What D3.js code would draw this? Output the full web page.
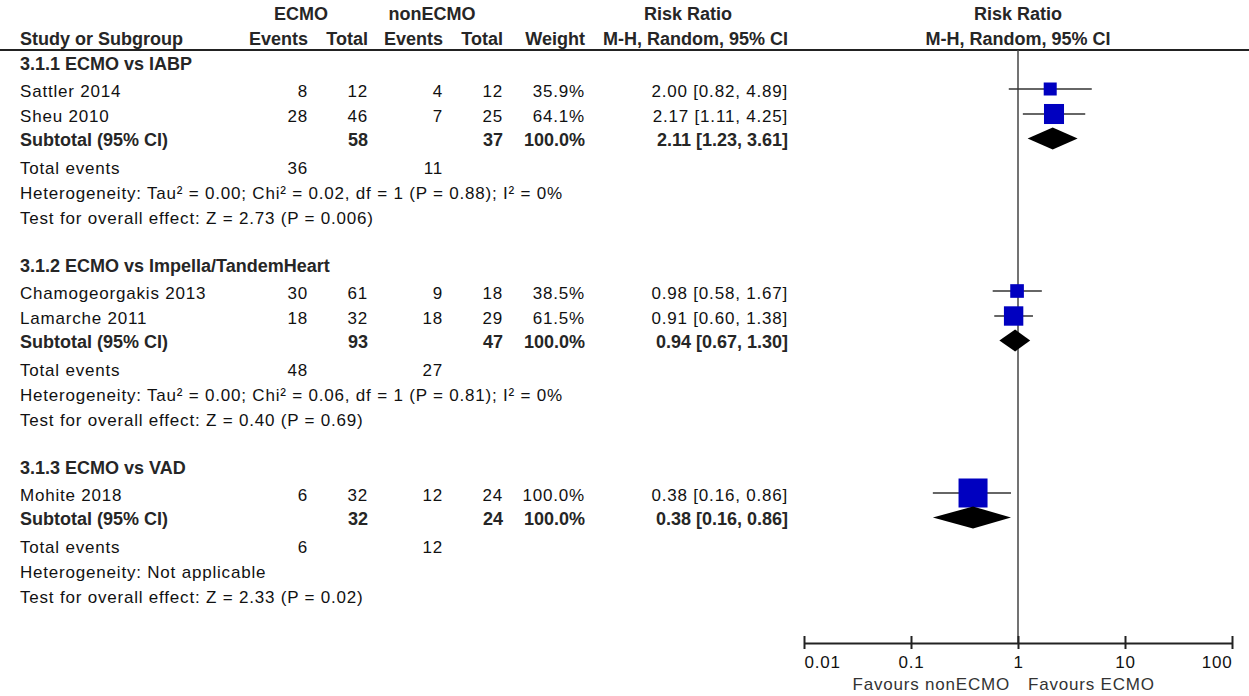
<!DOCTYPE html>
<html>
<head>
<meta charset="utf-8">
<script src="https://cdn.jsdelivr.net/npm/d3@7"></script>
<style>
  html, body { margin: 0; padding: 0; background: #fff; }
  svg { display: block; }
  .reg { font-family: "Liberation Sans", Arial, sans-serif; font-size: 17px; letter-spacing: 0.8px; fill: #111; }
  .bold { font-family: "Liberation Sans", Arial, sans-serif; font-size: 18px; font-weight: bold; fill: #262626; }
</style>
</head>
<body>
<svg id="chart" width="1249" height="696"></svg>
<script>
// ---------------- DATA ----------------
const groupTitles = ["3.1.1 ECMO vs IABP", "3.1.2 ECMO vs Impella/TandemHeart", "3.1.3 ECMO vs VAD"];

const studyNames   = ["Sattler 2014", "Sheu 2010", "Chamogeorgakis 2013", "Lamarche 2011", "Mohite 2018"];
const studyGroup   = [0, 0, 1, 1, 2];
const ecmoEvents   = [8, 28, 30, 18, 6];
const ecmoTotal    = [12, 46, 61, 32, 32];
const nonEvents    = [4, 7, 9, 18, 12];
const nonTotal     = [12, 25, 18, 29, 24];
const studyWeight  = [35.9, 64.1, 38.5, 61.5, 100.0];
const studyRR      = [2.00, 2.17, 0.98, 0.91, 0.38];
const studyLo      = [0.82, 1.11, 0.58, 0.60, 0.16];
const studyHi      = [4.89, 4.25, 1.67, 1.38, 0.86];

const subEcmoTotal = [58, 93, 32];
const subNonTotal  = [37, 47, 24];
const subWeight    = [100.0, 100.0, 100.0];
const subRR        = [2.11, 0.94, 0.38];
const subLo        = [1.23, 0.67, 0.16];
const subHi        = [3.61, 1.30, 0.86];

const totEcmoEvents = [36, 48, 6];
const totNonEvents  = [11, 27, 12];

const heterogeneity = [
  "Heterogeneity: Tau\u00B2 = 0.00; Chi\u00B2 = 0.02, df = 1 (P = 0.88); I\u00B2 = 0%",
  "Heterogeneity: Tau\u00B2 = 0.00; Chi\u00B2 = 0.06, df = 1 (P = 0.81); I\u00B2 = 0%",
  "Heterogeneity: Not applicable"
];
const overallEffect = [
  "Test for overall effect: Z = 2.73 (P = 0.006)",
  "Test for overall effect: Z = 0.40 (P = 0.69)",
  "Test for overall effect: Z = 2.33 (P = 0.02)"
];

const tickValues = [0.01, 0.1, 1, 10, 100];
const tickLabels = ["0.01", "0.1", "1", "10", "100"];
const favoursLeft = "Favours nonECMO";
const favoursRight = "Favours ECMO";

// ---------------- LAYOUT ----------------
const svg = d3.select("#chart");
const col = { name: 20, ee: 308, et: 368, ne: 443, nt: 503, w: 585, rr: 788 };
const x = d3.scaleLog().domain([0.01, 100]).range([804, 1232]);
const sizeScale = d3.scaleLinear().domain([35.9, 100]).range([13, 29]);
const axisY = 643;
const headerLineY = 50;

const fmt2 = d3.format(".2f");
const fmtW = v => d3.format(".1f")(v) + "%";
const rrText = (r, l, h) => `${fmt2(r)} [${fmt2(l)}, ${fmt2(h)}]`;

function text(cls, xPos, y, str, anchor) {
  return svg.append("text").attr("class", cls).attr("x", xPos).attr("y", y)
    .attr("dy", "0.36em").attr("text-anchor", anchor || "start").text(str);
}

// header
text("bold", 301, 14, "ECMO", "middle");
text("bold", 432, 14, "nonECMO", "middle");
text("bold", 688, 14, "Risk Ratio", "middle");
text("bold", 1018, 14, "Risk Ratio", "middle");
text("bold", col.name, 38.5, "Study or Subgroup");
text("bold", col.ee, 38.5, "Events", "end");
text("bold", col.et, 38.5, "Total", "end");
text("bold", col.ne, 38.5, "Events", "end");
text("bold", col.nt, 38.5, "Total", "end");
text("bold", col.w, 38.5, "Weight", "end");
text("bold", col.rr, 38.5, "M-H, Random, 95% CI", "end");
text("bold", 1018, 38.5, "M-H, Random, 95% CI", "middle");

svg.append("line").attr("x1", 0).attr("x2", 1249).attr("y1", headerLineY).attr("y2", headerLineY)
  .attr("stroke", "#222").attr("stroke-width", 2);

// null line
svg.append("line").attr("x1", x(1)).attr("x2", x(1)).attr("y1", headerLineY).attr("y2", axisY)
  .attr("stroke", "#444").attr("stroke-width", 1.5);

// rows
let y = 64;
groupTitles.forEach((title, g) => {
  text("bold", col.name, y, title);
  y += 26.5;
  const idx = studyGroup.map((gg, i) => gg === g ? i : -1).filter(i => i >= 0);
  idx.forEach((i, k) => {
    if (k > 0) y += 25;
    text("reg", col.name, y, studyNames[i]);
    text("reg", col.ee, y, ecmoEvents[i], "end");
    text("reg", col.et, y, ecmoTotal[i], "end");
    text("reg", col.ne, y, nonEvents[i], "end");
    text("reg", col.nt, y, nonTotal[i], "end");
    text("reg", col.w, y, fmtW(studyWeight[i]), "end");
    text("reg", col.rr, y, rrText(studyRR[i], studyLo[i], studyHi[i]), "end");
    const cy = y - 1.5;
    svg.append("line").attr("x1", x(studyLo[i])).attr("x2", x(studyHi[i]))
      .attr("y1", cy).attr("y2", cy).attr("stroke", "#333").attr("stroke-width", 1.5);
    const s = sizeScale(studyWeight[i]);
    svg.append("rect").attr("x", x(studyRR[i]) - s / 2).attr("y", cy - s / 2)
      .attr("width", s).attr("height", s).attr("fill", "#0000C0");
  });
  y += 24;
  text("bold", col.name, y, "Subtotal (95% CI)");
  text("bold", col.et, y, subEcmoTotal[g], "end");
  text("bold", col.nt, y, subNonTotal[g], "end");
  text("bold", col.w, y, fmtW(subWeight[g]), "end");
  text("bold", col.rr, y, rrText(subRR[g], subLo[g], subHi[g]), "end");
  const dy = y - 1;
  const h = 11;
  svg.append("path")
    .attr("d", `M${x(subLo[g])},${dy} L${x(subRR[g])},${dy - h} L${x(subHi[g])},${dy} L${x(subRR[g])},${dy + h} Z`)
    .attr("fill", "#000");
  y += 28;
  text("reg", col.name, y, "Total events");
  text("reg", col.ee, y, totEcmoEvents[g], "end");
  text("reg", col.ne, y, totNonEvents[g], "end");
  y += 25;
  text("reg", col.name, y, heterogeneity[g]);
  y += 25;
  text("reg", col.name, y, overallEffect[g]);
  y += 48.5;
});

// axis
const axis = d3.axisBottom(x).tickValues(tickValues).tickFormat((d, i) => tickLabels[i]).tickSize(0).tickPadding(0);
const ag = svg.append("g").attr("transform", `translate(0,${axisY})`).call(axis);
ag.select(".domain").attr("stroke", "#222").attr("stroke-width", 2);
const nT = tickValues.length;
ag.selectAll(".tick text").attr("class", "reg").attr("y", 19).attr("dy", "0.36em")
  .style("font-size", "17px").attr("fill", "#111")
  .attr("text-anchor", (d, i) => i === 0 ? "start" : (i === nT - 1 ? "end" : "middle"));
ag.selectAll(".tick").append("line").attr("y1", -7).attr("y2", 6).attr("stroke", "#222").attr("stroke-width", 2);

text("reg", x(1) - 8, 684, favoursLeft, "end").style("fill", "#333");
text("reg", x(1) + 10, 684, favoursRight, "start").style("fill", "#333");
</script>
</body>
</html>
